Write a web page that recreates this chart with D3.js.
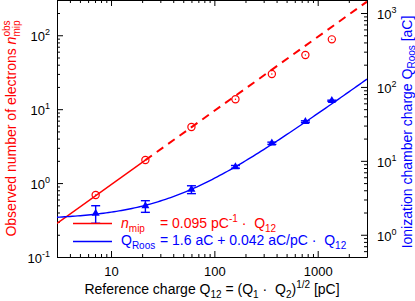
<!DOCTYPE html>
<html><head><meta charset="utf-8">
<script src="https://cdn.jsdelivr.net/npm/d3@7"></script>
<style>
body{margin:0;background:#fff}
svg{display:block}
text{font-family:"Liberation Sans",Arial,Helvetica,sans-serif;white-space:pre}
</style>
</head><body>
<svg id="c" width="415" height="301"></svg>
<script>
// ---- data ----
const Q12      = [7.1, 21.5, 60, 160, 360, 760, 1370];      // reference charge [pC]
const nObs     = [0.69, 2.05, 5.75, 13.6, 29.9, 54, 88];     // observed electrons (left axis)
const qRoos    = [1.95, 2.45, 4.1, 8.3, 17.3, 33.9, 65];     // ionization chamber charge [aC] (right axis)
const qRoosErr = [0.52, 0.44, 0.5, 0.35, 0.6, 0.9, 1.2];
const nCoef = 0.095;                 // pC^-1
const roosA = 1.6, roosB = 0.042;    // aC, aC/pC
const xMajor = [10, 100, 1000];
const xMinor = [3,4,5,6,7,8,9,20,30,40,50,60,70,80,90,200,300,400,500,600,700,800,900,2000,3000];
const yLMajor = [0.1, 1, 10, 100];
const yLMinor = [0.2,0.3,0.4,0.5,0.6,0.7,0.8,0.9,2,3,4,5,6,7,8,9,20,30,40,50,60,70,80,90,200,300];
const yRMajor = [1, 10, 100, 1000];
const yRMinor = [0.5,0.6,0.7,0.8,0.9,2,3,4,5,6,7,8,9,20,30,40,50,60,70,80,90,200,300,400,500,600,700,800,900];
const yLExp = [-1, 0, 1, 2];
const yRExp = [0, 1, 2, 3];

const RED = "#ff0000", BLUE = "#0000ff";
const L = 57, R = 367, T = 0, B = 257;
const svg = d3.select("#c");
const x  = d3.scaleLog().domain([3, 3000]).range([L, R]);
const yL = d3.scaleLog().domain([0.1, 300]).range([B, T]);
const yR = d3.scaleLog().domain([0.5, 1500]).range([B, T]);

function axisG(gen, tx, ty, vals, size, keepDomain) {
  const g = svg.append("g").attr("transform", `translate(${tx},${ty})`)
    .call(gen.tickValues(vals).tickSizeInner(-size).tickSizeOuter(0).tickFormat(""));
  g.selectAll("line").attr("stroke", "#000");
  if (keepDomain) g.select(".domain").attr("stroke", "#000");
  else g.select(".domain").remove();
  g.selectAll("text").remove();
  return g;
}
// bottom / top
const gb = axisG(d3.axisBottom(x), 0, B, xMajor, 6, true);
axisG(d3.axisBottom(x), 0, B, xMinor, 3, false);
axisG(d3.axisTop(x), 0, T, xMajor, 6, true);
axisG(d3.axisTop(x), 0, T, xMinor, 3, false);
// left / right
const gl = axisG(d3.axisLeft(yL), L, 0, yLMajor, 6, true);
axisG(d3.axisLeft(yL), L, 0, yLMinor, 3, false);
const gr = axisG(d3.axisRight(yR), R, 0, yRMajor, 6, true);
axisG(d3.axisRight(yR), R, 0, yRMinor, 3, false);

// tick labels
gb.selectAll(".tick").append("text")
  .attr("y", 19).attr("text-anchor", "middle").attr("font-size", 13).attr("fill", "#000")
  .text(d => d);
gl.selectAll(".tick").each(function(d, i) {
  const t = d3.select(this).append("text").attr("x", -7).attr("y", 5.5)
    .attr("text-anchor", "end").attr("font-size", 13).attr("fill", "#000");
  t.append("tspan").text("10");
  t.append("tspan").attr("font-size", 9).attr("dy", -6).text(yLExp[i]);
});
gr.selectAll(".tick").each(function(d, i) {
  const t = d3.select(this).append("text").attr("x", 10).attr("y", 5.5)
    .attr("text-anchor", "start").attr("font-size", 13).attr("fill", "#000");
  t.append("tspan").text("10");
  t.append("tspan").attr("font-size", 9).attr("dy", -6).text(yRExp[i]);
});

// clip
svg.append("clipPath").attr("id", "clip").append("rect")
  .attr("x", L).attr("y", T).attr("width", R - L).attr("height", B - T);
const plot = svg.append("g").attr("clip-path", "url(#clip)");

// red fit line (solid up to second point, dashed beyond)
const lineL = d3.line().x(d => x(d)).y(d => yL(nCoef * d));
plot.append("path").attr("d", lineL([3, Q12[1]]))
  .attr("fill", "none").attr("stroke", RED).attr("stroke-width", 1.4);
plot.append("path").attr("d", lineL([Q12[1], 3000]))
  .attr("fill", "none").attr("stroke", RED).attr("stroke-width", 2).attr("stroke-dasharray", "8,6");

// blue fit curve
const fitQ = d3.range(0, 121).map(i => 3 * Math.pow(1000, i / 120));
const lineR = d3.line().x(d => x(d)).y(d => yR(roosA + roosB * d));
plot.append("path").attr("d", lineR(fitQ))
  .attr("fill", "none").attr("stroke", BLUE).attr("stroke-width", 1.4);

// error bars
const eb = svg.append("g").attr("stroke", BLUE).attr("stroke-width", 1.4);
Q12.forEach((q, i) => {
  const cx = x(q), y1 = yR(qRoos[i] + qRoosErr[i]), y2 = yR(qRoos[i] - qRoosErr[i]);
  eb.append("line").attr("x1", cx).attr("x2", cx).attr("y1", y1).attr("y2", y2);
  eb.append("line").attr("x1", cx - 4.5).attr("x2", cx + 4.5).attr("y1", y1).attr("y2", y1);
  eb.append("line").attr("x1", cx - 4.5).attr("x2", cx + 4.5).attr("y1", y2).attr("y2", y2);
});
// triangles
svg.append("g").selectAll("path").data(Q12).join("path")
  .attr("transform", (d, i) => `translate(${x(d)},${yR(qRoos[i])})`)
  .attr("d", d3.symbol(d3.symbolTriangle, 28)())
  .attr("fill", BLUE);
// circles
const cg = svg.append("g");
cg.selectAll("circle.o").data(Q12).join("circle").attr("class", "o")
  .attr("cx", d => x(d)).attr("cy", (d, i) => yL(nObs[i])).attr("r", 3.6)
  .attr("fill", "none").attr("stroke", RED).attr("stroke-width", 1.2);
cg.selectAll("circle.d").data(Q12).join("circle").attr("class", "d")
  .attr("cx", d => x(d)).attr("cy", (d, i) => yL(nObs[i])).attr("r", 0.7)
  .attr("fill", RED);

// legend
svg.append("line").attr("x1", 73).attr("x2", 112).attr("y1", 223.5).attr("y2", 223.5)
  .attr("stroke", RED).attr("stroke-width", 1.4);
svg.append("line").attr("x1", 73).attr("x2", 112).attr("y1", 241.5).attr("y2", 241.5)
  .attr("stroke", BLUE).attr("stroke-width", 1.4);
let t = svg.append("text").attr("x", 121).attr("y", 228).attr("font-size", 14).attr("fill", RED);
t.append("tspan").attr("font-style", "italic").text("n");
t.append("tspan").attr("font-size", 10).attr("dy", 3.5).text("mip");
t = svg.append("text").attr("x", 160).attr("y", 228).attr("font-size", 14).attr("fill", RED);
t.append("tspan").text("= 0.095 pC");
t.append("tspan").attr("font-size", 10).attr("dy", -6).text("-1");
t.append("tspan").attr("dy", 6).text(" \u00b7  Q");
t.append("tspan").attr("font-size", 10).attr("dy", 3.5).text("12");
t = svg.append("text").attr("x", 121).attr("y", 245).attr("font-size", 14).attr("fill", BLUE);
t.append("tspan").text("Q");
t.append("tspan").attr("font-size", 10).attr("dy", 3.5).text("Roos");
t = svg.append("text").attr("x", 160).attr("y", 245).attr("font-size", 14).attr("fill", BLUE);
t.append("tspan").text("= 1.6 aC + 0.042 aC/pC \u00b7  Q");
t.append("tspan").attr("font-size", 10).attr("dy", 3.5).text("12");

// x title
t = svg.append("text").attr("x", 212).attr("y", 294).attr("font-size", 14)
  .attr("text-anchor", "middle").attr("fill", "#000");
t.append("tspan").text("Reference charge Q");
t.append("tspan").attr("font-size", 10).attr("dy", 3.5).text("12");
t.append("tspan").attr("dy", -3.5).text(" = (Q");
t.append("tspan").attr("font-size", 10).attr("dy", 3.5).text("1");
t.append("tspan").attr("dy", -3.5).text(" \u00b7  Q");
t.append("tspan").attr("font-size", 10).attr("dy", 3.5).text("2");
t.append("tspan").attr("dy", -3.5).text(")");
t.append("tspan").attr("font-size", 10).attr("dy", -6).text("1/2");
t.append("tspan").attr("dy", 6).text(" [pC]");

// left title
t = svg.append("text").attr("transform", "translate(15.5,128.5) rotate(-90)")
  .attr("font-size", 14).attr("text-anchor", "middle").attr("fill", RED);
t.append("tspan").text("Observed number of electrons ");
t.append("tspan").attr("font-style", "italic").text("n");
t.append("tspan").attr("font-size", 10).attr("dy", 4).text("mip");
t.append("tspan").attr("font-size", 10).attr("dx", -16.1).attr("dy", -9.5).text("obs");

// right title
t = svg.append("text").attr("transform", "translate(411.5,132) rotate(-90)")
  .attr("font-size", 14).attr("text-anchor", "middle").attr("fill", BLUE);
t.append("tspan").text("Ionization chamber charge Q");
t.append("tspan").attr("font-size", 10).attr("dy", 3).text("Roos");
t.append("tspan").attr("dy", -3).text(" [aC]");
</script>
</body></html>
